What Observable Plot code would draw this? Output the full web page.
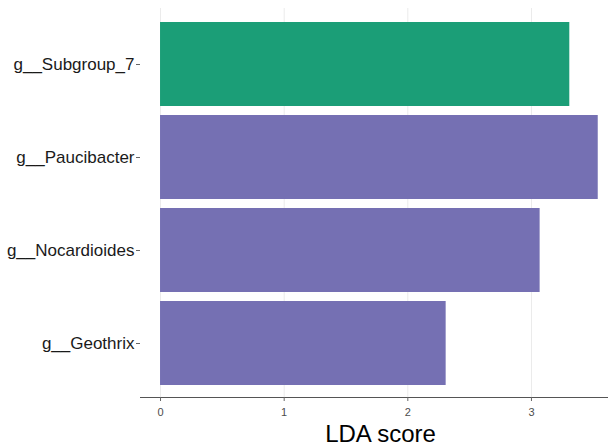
<!DOCTYPE html>
<html>
<head>
<meta charset="utf-8">
<script src="https://cdn.jsdelivr.net/npm/d3@7"></script>
<script src="https://cdn.jsdelivr.net/npm/@observablehq/plot@0.6"></script>
<style>
  html, body { margin: 0; padding: 0; background: #fff; }
  svg { display: block; }
</style>
</head>
<body>
<div id="chart"></div>
<script>
// LEfSe-style LDA scores per genus
const genera = ["g__Subgroup_7", "g__Paucibacter", "g__Nocardioides", "g__Geothrix"];
const ldaScores = [3.31, 3.54, 3.07, 2.31];
const groups = ["A", "B", "B", "B"];
const groupColors = ["#1b9e77", "#7570b3"];
const xTicks = [0, 1, 2, 3];

const data = genera.map((g, i) => ({genus: g, lda: ldaScores[i], group: groups[i]}));

const chart = Plot.plot({
  width: 608,
  height: 445,
  marginTop: 8,
  marginLeft: 140,
  marginRight: 0,
  marginBottom: 48,
  style: {fontFamily: "Liberation Sans, Arial, sans-serif", background: "#fff"},
  x: {domain: [-0.162, 3.623], ticks: xTicks},
  y: {domain: genera, paddingInner: 0.1, paddingOuter: 0.05, insetTop: 9, insetBottom: 8},
  color: {domain: ["A", "B"], range: groupColors},
  marks: [
    Plot.gridX(xTicks, {stroke: "#ebebeb", strokeOpacity: 1, strokeWidth: 1}),
    Plot.barX(data, {x1: 0, x2: "lda", y: "genus", fill: "group"}),
    Plot.frame({anchor: "bottom", stroke: "#555", strokeWidth: 1}),
    Plot.axisY({
      tickSize: 4, tickPadding: 2, stroke: "#666",
      fontSize: 17, fill: "#1a1a1a", label: null
    }),
    Plot.axisX(xTicks, {
      tickSize: 4, tickPadding: 7, stroke: "#666",
      fontSize: 11, fill: "#4d4d4d",
      tickFormat: d => String(d),
      label: "LDA score", labelAnchor: "center", labelArrow: "none",
      labelOffset: 44
    })
  ]
});

// enlarge the x-axis title and nudge it right
chart.querySelectorAll("[aria-label='x-axis label']").forEach(g => {
  g.setAttribute("transform", ((g.getAttribute("transform") || "") + " translate(6,0)").trim());
  g.querySelectorAll("text").forEach(t => {
    t.setAttribute("font-size", "24");
    t.setAttribute("fill", "#000");
  });
});

document.getElementById("chart").appendChild(chart);
</script>
</body>
</html>
